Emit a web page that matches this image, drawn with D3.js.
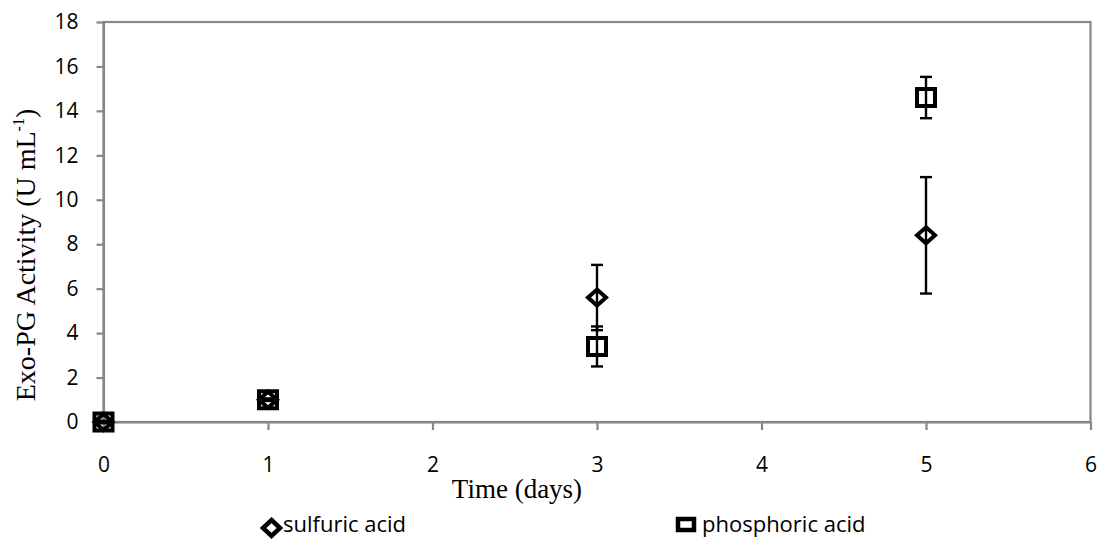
<!DOCTYPE html>
<html>
<head>
<meta charset="utf-8">
<script src="https://cdn.jsdelivr.net/npm/d3@7"></script>
<style>
  html, body { margin: 0; padding: 0; background: #fff; }
  svg { display: block; }
</style>
</head>
<body>
<svg id="chart" width="1104" height="540"></svg>
<script>
// Sampling days and measured Exo-PG activity (U mL-1) with error bars
const days = [0, 1, 3, 5];
const sulfuric = [0, 1.0, 5.6, 8.4];
const sulfuricErr = [0.05, 0.05, 1.47, 2.62];
const phosphoric = [0, 1.0, 3.4, 14.6];
const phosphoricErr = [0.05, 0.05, 0.9, 0.93];
const xTicks = [0, 1, 2, 3, 4, 5, 6];
const yTicks = [0, 2, 4, 6, 8, 10, 12, 14, 16, 18];
const seriesNames = ["sulfuric acid", "phosphoric acid"];

const svg = d3.select("#chart");
const plotLeft = 103.5, plotRight = 1090.5, plotTop = 22, plotBottom = 422;
const axisColor = "#878787";
const tickFont = "'Open Sans', sans-serif";
const titleFont = "'Liberation Serif', 'Times New Roman', serif";

const x = d3.scaleLinear().domain([0, 6]).range([plotLeft, plotRight]);
const y = d3.scaleLinear().domain([0, 18]).range([plotBottom, plotTop]);

// Plot frame
svg.append("rect")
  .attr("x", plotLeft).attr("y", plotTop)
  .attr("width", plotRight - plotLeft).attr("height", plotBottom - plotTop)
  .attr("fill", "none").attr("stroke", axisColor).attr("stroke-width", 2.2);

// Y axis
const yAxis = svg.append("g")
  .attr("transform", `translate(${plotLeft},0)`)
  .call(d3.axisLeft(y).tickValues(yTicks).tickSize(7).tickSizeOuter(0).tickPadding(18));
yAxis.select(".domain").attr("stroke", axisColor).attr("stroke-width", 2.2);
yAxis.selectAll(".tick line").attr("stroke", axisColor).attr("stroke-width", 2.2);
yAxis.selectAll(".tick text")
  .attr("font-family", tickFont).attr("font-size", 21).attr("fill", "#000");

// X axis
const xAxis = svg.append("g")
  .attr("transform", `translate(0,${plotBottom})`)
  .call(d3.axisBottom(x).tickValues(xTicks).tickFormat(d3.format("d")).tickSize(8).tickSizeOuter(0));
xAxis.select(".domain").attr("stroke", axisColor).attr("stroke-width", 2.2);
xAxis.selectAll(".tick line").attr("stroke", axisColor).attr("stroke-width", 2.2);
xAxis.selectAll(".tick text")
  .attr("font-family", tickFont).attr("font-size", 21).attr("fill", "#000")
  .attr("y", 50).attr("dy", 0);

// Axis titles
svg.append("text")
  .attr("x", 517).attr("y", 498)
  .attr("text-anchor", "middle")
  .attr("font-family", titleFont).attr("font-size", 27).attr("fill", "#000")
  .text("Time (days)");

const yTitle = svg.append("text")
  .attr("transform", "translate(35,255) rotate(-90)")
  .attr("text-anchor", "middle")
  .attr("font-family", titleFont).attr("font-size", 28).attr("fill", "#000");
yTitle.append("tspan").text("Exo-PG Activity (U mL");
yTitle.append("tspan").attr("font-size", 16).attr("dy", -11).text("-1");
yTitle.append("tspan").attr("dy", 11).text(")");

// Marker shapes, centred on the origin
const diamondPath = (w, h) => `M0,${-h / 2}L${w / 2},0L0,${h / 2}L${-w / 2},0Z`;
const squarePath = (w, h) => `M${-w / 2},${-h / 2}H${w / 2}V${h / 2}H${-w / 2}Z`;

function drawSeries(values, errs, shape) {
  const g = svg.append("g");
  const pts = days.map((d, i) => ({ d, v: values[i], e: errs[i] }));
  const capW = 12;
  // error bars
  g.selectAll(".bar").data(pts).enter().append("line")
    .attr("x1", p => x(p.d)).attr("x2", p => x(p.d))
    .attr("y1", p => y(p.v + p.e)).attr("y2", p => y(p.v - p.e))
    .attr("stroke", "#000").attr("stroke-width", 2.4);
  g.selectAll(".capTop").data(pts).enter().append("line")
    .attr("x1", p => x(p.d) - capW / 2).attr("x2", p => x(p.d) + capW / 2)
    .attr("y1", p => y(p.v + p.e)).attr("y2", p => y(p.v + p.e))
    .attr("stroke", "#000").attr("stroke-width", 2.4);
  g.selectAll(".capBot").data(pts).enter().append("line")
    .attr("x1", p => x(p.d) - capW / 2).attr("x2", p => x(p.d) + capW / 2)
    .attr("y1", p => y(p.v - p.e)).attr("y2", p => y(p.v - p.e))
    .attr("stroke", "#000").attr("stroke-width", 2.4);
  // markers
  g.selectAll(".mark").data(pts).enter().append("path")
    .attr("d", shape)
    .attr("transform", p => `translate(${x(p.d)},${y(p.v)})`)
    .attr("fill", "none").attr("stroke", "#000").attr("stroke-width", 4)
    .attr("stroke-linejoin", "miter");
}

drawSeries(sulfuric, sulfuricErr, diamondPath(18, 16));
drawSeries(phosphoric, phosphoricErr, squarePath(18, 17));

// Legend
const legend = svg.append("g");
legend.append("path").attr("d", diamondPath(17, 16))
  .attr("transform", "translate(271.5,528)")
  .attr("fill", "none").attr("stroke", "#000").attr("stroke-width", 4.5);
legend.append("text").attr("x", 283).attr("y", 532)
  .attr("font-family", tickFont).attr("font-size", 22).attr("fill", "#000")
  .text(seriesNames[0]);
legend.append("path").attr("d", squarePath(16, 11))
  .attr("transform", "translate(686,524.5)")
  .attr("fill", "none").attr("stroke", "#000").attr("stroke-width", 4.5);
legend.append("text").attr("x", 702).attr("y", 532)
  .attr("font-family", tickFont).attr("font-size", 22).attr("fill", "#000")
  .text(seriesNames[1]);
</script>
</body>
</html>
